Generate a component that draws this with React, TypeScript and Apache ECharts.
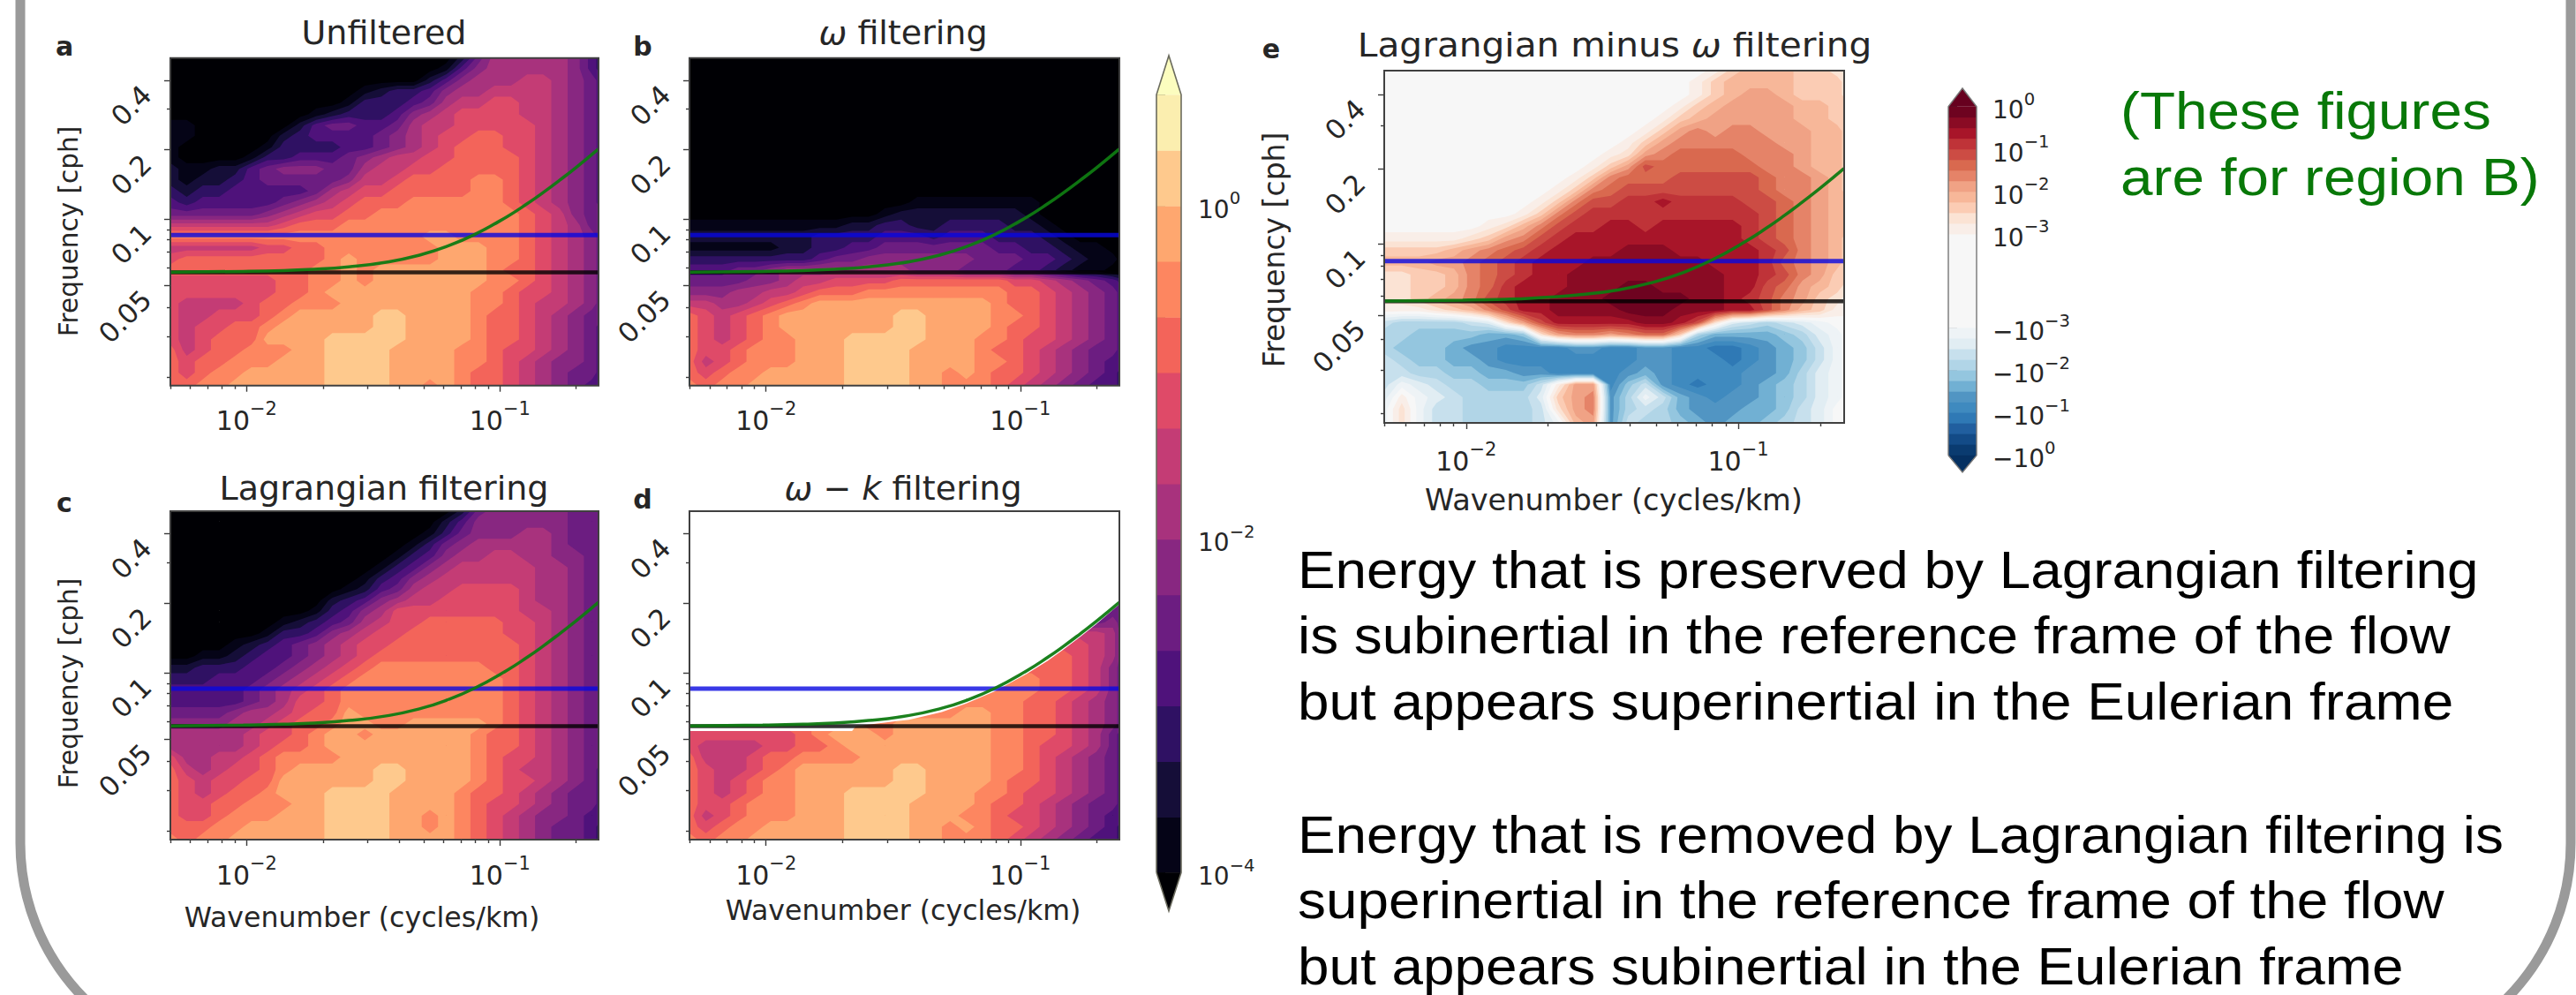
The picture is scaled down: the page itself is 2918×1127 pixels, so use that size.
import React, { useEffect, useRef } from "react";
import * as echarts from "echarts";

// Wavenumber (cycles/km) and frequency (cph) of the sampled contour grid
const wavenumbers = [0.005, 0.0058, 0.00672, 0.00778, 0.00902, 0.01045, 0.0121, 0.014, 0.01625, 0.01884, 0.0218, 0.0253, 0.0293, 0.034, 0.0394, 0.0456, 0.0529, 0.0613, 0.071, 0.0823, 0.0953, 0.1105, 0.128, 0.148, 0.172, 0.199, 0.231, 0.25];
const frequencies = [0.5, 0.45, 0.4, 0.36, 0.32, 0.285, 0.255, 0.23, 0.205, 0.185, 0.165, 0.148, 0.132, 0.118, 0.105, 0.094, 0.084, 0.075, 0.067, 0.06, 0.054, 0.048, 0.043, 0.038, 0.034, 0.03, 0.027, 0.024, 0.0215, 0.0189];

// Colour-band number (hex digit) read at each grid node: one string per frequency, one character per wavenumber
const unfiltered = [
"0000000000000000002577777643","0000000000000000014677777643","0000000000000000246777887654","0000000000001233467788887654","0000000000013334578899887654","0000000001233346789999887654",
"1100000024554457889999987654","1100000234444567899aa9987654","100000133334456789aaa9987654","100001334445678899aaaa987654","21122456665578899aaaaa987654","212234555556889aaaabba987654",
"32334444457899aaaaabba987654","434444456789aaabbbbbba987654","55555567899aabbbbbbbbba98655","88888889aaabbbbbbbbbbba98755","bbbbbbbbbbbbbbbbccbbbba98765","88888899aabbbbbbbcccbba98765",
"9aaaaaaaaabcbbbbbcccbba98765","aaaaaaaaabbcbcccccccbaa98765","9999999aabbcbcccccccbba98765","9999999aabcccccccccbba998765","988889aabbbccccccccbba988765","988999abcccccddccccbaa987655",
"9899aabccccccddccccbaa987654","989aaaccccdddddccccbaa987654","a89aabbbccddddccccbba9987654","a9aabbbcccddddccccbba9876654","a9abbcccccddddccccbaa9876554","aabbccccccddddccbcbaa9876544"];
const omegaFiltered = [
"0000000000000000000000000000","0000000000000000000000000000","0000000000000000000000000000","0000000000000000000000000000","0000000000000000000000000000","0000000000000000000000000000",
"0000000000000000000000000000","0000000000000000000000000000","0000000000000000000000000000","0000000000000000000000000000","0000000000000000000000000000","0000000000000000000000000000",
"0000000000000000000000000000","0000000000000011111111000000","0000000000001222222221000000","1111111111223322333322100000","2222222233334443444333210000","1111112233445555555443321100",
"3333333345566666665554432110","4445567777777766655544321100","5555667889999aaaaaaa99876543","66677889aaabbbbbbbbbaa987654","887789abcccccccccccbaa987654","a989abcccccccddccccbba987654",
"a989abcccccccddccccbaa987654","a989abbcccdddddcccbba9987654","a99abbbcccddddccccbaa9876554","a89abbbcccddddccccbba9876544","a9abbcccccddddccbcbaa9876543","babbccccccddddccbbba98765443"];
const lagrangian = [
"0000000000000000002566666555","0000000000000000024666666555","0000000000000000135666776555","0000000000000001356777776555","0000000000000013467788776655","0000000000000134678888877655",
"0000000000001346788888877655","0000000000012457889999877655","0000000000234678899999877655","0000000001346799999999887655","0000000123457899aaaaa9987655","000000133467899aaaaaa9987655",
"00001234567899aaaaaaaa987655","0011234456789aaaaaaaaa987655","223334456789abbbbbbbaa987655","33344456789abbbbbbbbba987655","4444456789abbbbbbbbbba987655","4444456799abbbbbbbbbba987655",
"555567789aacbbbbbbbbba987655","66667789aabccbbcccccba987655","77777899abccbccccccbaa987655","7777789aabcccccccccbaa987655","977889abbbbccccccccba9987655","a87899abcccccddccccba9887654",
"a9899aaccccccddccccba9987654","a989aabcccddddccccbaa9876554","a99aabbbccddddccccba99876554","a99abbbcccddddccbcba98766544","aaabbcccccddddccbcba98765543","babbccccccddddccccba98765543"];
const omegaKFiltered = [
"5555555555555555555555555555","5555555555555555555555555555","5555555555555555555555555555","5555555555555555555555555555","5555555555555555555555555555","5555555555555555555555555555",
"5555555555555555555555555555","5555555555555555555555555555","5555555555555555555555555555","5555555555555555555555555555","5555555555555555555555555565","8888888888888888888888888875",
"9999999999999999999999999875","aaaaaaaaaaaaaaaaaaaaaaaa9875","aaaaaaaaaaaaaaaaaaaaaaaa9865","bbbbbbbbbbbbbbbbbbbbbbaa9865","bbbbbbbbbbbbbbbbbbbbbbaa9865","bbbbbbbbbbbbbbbbbbbbbaa98765",
"bbbbbbbbbbbbbbbbbccbbaa98765","999999aabbcbbccccccbbaa98765","9999999abcccbccccccbbaa98754","9888899aabcccccccccbba998754","a8889aabbbbccccccccbba987654","a9889abccccccddccccbba987654",
"a989abbccccccddccccbaa987654","a989abbcccdddddcccbba9987654","a99abbbcccddddccccbaa9876554","a89abbbcccddddcccbba99876544","a9abbcccccddddccbcbaa9876543","babbccccccddddccbbba98765443"];
// Difference panel: '.' centre band, A..M positive bands, a..m negative bands
const difference = [
"...................ACDDDCCBB","..................ACDDDDCCCB","..................ACDEEDCCCB",".................ACDEEEEDDCC","................ACDEEEEEDDCC","...............ACEFEFFEEEDDC",
"..............ACEFFFFFFEEDDC",".............ABEFGGGGFFFEDDC","............ACEHGGGGGGFFEDDC","...........ACFGGGHHHHHGFFEDC","..........ACFGHHHHHHHHGFFEDC",".........ACFHHIIJIIIIHHGFEDD",
"........ACFHIIIIIIIIIIHGFEDD","......ABDFHIIJJIJJJJJIHGFEDD","AAAAABCEFHIJJJJJJJJJJIHGFEDC","CCCCDEFGHIJJJJKKKJJJJJIHFEDC","DDDEEFGHIJJJKKKKKKKJJJIGFEDC","BBCCDFGHIJJKKKKKKKKKJJIHFECC",
"BBCCDFGIJJJKKKLLKKKKJJHGEDCB","BBCDEFHIJJKKKLLLLLKKJIHFECBA","AAABCDFHJJKKKKLLLKKKJJHFDCAA","cddddcbBEHJJJJJKKJHBbcdcba..","ddeeeeffeBEFFEFGGCdffffedba.","deeefgghhhhgghhgghhiihgfeca.",
"cdeeffghhhhhhhhgghhhihgfeca.","ccddeeffgghhhhgfghhhhggfdba.","cabcddeeecAEEhecghihhgfedba.","bAabcddddbCEFgdacfghggfedba.","aBaccddddcBEFgdcdfgggffecb..","aBaccddddcaDEgcddefgffedcb.."];

// Reference lines and the dispersion curve
const inertialFrequency = 0.0586;
const tidalFrequency = 0.0851;
const curveK = [0.005, 0.0097, 0.014, 0.0175, 0.0253, 0.0365, 0.0491, 0.0613, 0.0794, 0.1063, 0.128, 0.148, 0.172, 0.2, 0.2445];
const curveF = [0.0587, 0.0592, 0.0597, 0.0603, 0.062, 0.0652, 0.0701, 0.0758, 0.0856, 0.1021, 0.1164, 0.1302, 0.1473, 0.1675, 0.2011];
// Upper edge of the data kept by the omega-k filter
const keptEdgeK = [0.005, 0.0218, 0.0225, 0.0253, 0.0365, 0.0491, 0.0613, 0.0794, 0.1063, 0.128, 0.148, 0.172, 0.2, 0.2445];
const keptEdgeF = [0.0558, 0.0558, 0.0585, 0.0595, 0.0625, 0.0675, 0.0735, 0.083, 0.099, 0.1125, 0.126, 0.143, 0.163, 0.197];

// Axis ticks
const xMajor = [0.01, 0.1];
const xMinor = [0.005, 0.006, 0.007, 0.008, 0.009, 0.02, 0.03, 0.04, 0.05, 0.06, 0.07, 0.08, 0.09, 0.2];
const yMajor = [0.4, 0.2, 0.1, 0.0515];
const yMinor = [0.3, 0.09, 0.0815, 0.0721, 0.0616, 0.0412, 0.0309, 0.0206];

// Colour bars
const energyLevels = [1e-4, 2.15e-4, 4.64e-4, 1e-3, 2.15e-3, 4.64e-3, 1e-2, 2.15e-2, 4.64e-2, 0.1, 0.215, 0.464, 1, 2.15, 4.64];
const magmaBands = ["#000004", "#050417", "#150e38", "#2f1163", "#4f127b", "#6c1d81", "#882781", "#a8327d", "#c43c75", "#df4a68", "#f3645a", "#fd8660", "#fea76f", "#fec98d", "#fbeeaf", "#fcfdbf"];
const energyMajor = [4.64, 1, 0.215, 0.0464, 0.01, 0.00215, 0.000464, 0.0001];
const energyMinor = [4, 3, 2, 0.9, 0.8, 0.7, 0.6, 0.5, 0.4, 0.3, 0.2, 0.09, 0.08, 0.07, 0.06, 0.05, 0.04, 0.03, 0.02, 0.009, 0.008, 0.007, 0.006, 0.005, 0.004, 0.003, 0.002, 0.0009, 0.0008, 0.0007, 0.0006, 0.0005, 0.0004, 0.0003, 0.0002];
const energyLabelled = [1, 0.01, 0.0001];
const diffLevels = [1e-3, 1.78e-3, 3.16e-3, 5.62e-3, 1e-2, 1.78e-2, 3.16e-2, 5.62e-2, 0.1, 0.178, 0.316, 0.562, 1];
const redBands = ["#f9eee8", "#fbe3d4", "#fbccb4", "#f7b799", "#f0a285", "#e58368", "#d9694f", "#cc4c44", "#bf3338", "#a81529", "#8a0b24", "#6e0320", "#67001f"];
const blueBands = ["#eef3f6", "#e1edf3", "#c7e0ed", "#b1d5e7", "#94c6df", "#71b0d3", "#5195c3", "#3f8abf", "#2f79b5", "#215f9f", "#134b87", "#0a3b70", "#053061"];
const centreBand = "#f7f7f7";
const diffTicks = [1, 0.1, 0.01, 0.001, -0.001, -0.01, -0.1, -1];
const diffTickLabels = ["{b|10}{s|0}", "{b|10}{s|−1}", "{b|10}{s|−2}", "{b|10}{s|−3}", "{b|−10}{s|−3}", "{b|−10}{s|−2}", "{b|−10}{s|−1}", "{b|−10}{s|0}"];

// Text
const sentenceA = ["Energy that is preserved by Lagrangian filtering", "is subinertial in the reference frame of the flow", "but appears superinertial in the Eulerian frame"];
const sentenceB = ["Energy that is removed by Lagrangian filtering is", "superinertial in the reference frame of the flow", "but appears subinertial in the Eulerian frame"];
const regionNote = ["(These figures", "are for region B)"];
const xName = "Wavenumber (cycles/km)";
const yName = "Frequency [cph]";

const KMIN = 0.005, KMAX = 0.245, FMIN = 0.0189, FMAX = 0.5;
const MPL = "DejaVu Sans";
const INK = "#262626";

const parseHex = (rows: string[]) => rows.map((r) => Array.from(r.padEnd(28, r[r.length - 1])).map((c) => parseInt(c, 16)));
const parseSigned = (rows: string[]) =>
  rows.map((r) =>
    Array.from(r.padEnd(28, r[r.length - 1])).map((c) => {
      if (c === ".") return 0;
      if (c >= "A" && c <= "M") return c.charCodeAt(0) - 64;
      return -(c.charCodeAt(0) - 96);
    })
  );

// Part of one grid cell that lies at or above threshold t, as path commands
function cellPiece(p: number[][], v: number[], t: number): string {
  let out = "";
  const push = (x: number, y: number) => {
    out += (out ? "L" : "M") + x.toFixed(1) + " " + y.toFixed(1);
  };
  for (let i = 0; i < 4; i++) {
    const j = (i + 1) % 4;
    const ia = v[i] >= t, ib = v[j] >= t;
    if (ia) push(p[i][0], p[i][1]);
    if (ia !== ib) {
      const s = (t - v[i]) / (v[j] - v[i]);
      push(p[i][0] + (p[j][0] - p[i][0]) * s, p[i][1] + (p[j][1] - p[i][1]) * s);
    }
  }
  return out ? out + "Z" : "";
}

function contourSeries(grid: number[][], lowest: number, colors: string[], axisIndex: number) {
  const data = colors.map((_, i) => [0.01, 0.1, i]);
  return {
    type: "custom",
    coordinateSystem: "cartesian2d",
    xAxisIndex: axisIndex,
    yAxisIndex: axisIndex,
    clip: true,
    silent: true,
    z: 2,
    data,
    renderItem: (_: any, api: any) => {
      const i = api.value(2);
      const t = i === 0 ? -Infinity : lowest + i - 0.5;
      const pts = frequencies.map((f) => wavenumbers.map((k) => api.coord([k, f])));
      let d = "";
      for (let r = 0; r < frequencies.length - 1; r++) {
        for (let c = 0; c < wavenumbers.length - 1; c++) {
          const v = [grid[r][c], grid[r][c + 1], grid[r + 1][c + 1], grid[r + 1][c]];
          if (Math.max(v[0], v[1], v[2], v[3]) < t) continue;
          d += cellPiece([pts[r][c], pts[r][c + 1], pts[r + 1][c + 1], pts[r + 1][c]], v, t);
        }
      }
      if (!d) return null;
      return { type: "path", shape: { pathData: d }, style: { fill: colors[i], stroke: null } };
    },
  };
}

function hLine(f: number, color: string, width: number, axisIndex: number) {
  return {
    type: "line", xAxisIndex: axisIndex, yAxisIndex: axisIndex, showSymbol: false, silent: true, z: 4,
    data: [[KMIN, f], [KMAX, f]],
    lineStyle: { color, width, opacity: 0.8 },
  };
}
function curve(axisIndex: number) {
  return {
    type: "line", xAxisIndex: axisIndex, yAxisIndex: axisIndex, showSymbol: false, silent: true, z: 5, smooth: 0.5,
    data: curveK.map((k, i) => [k, curveF[i]]),
    lineStyle: { color: "#0f7a12", width: 3.5, opacity: 0.95 },
  };
}
function mask(axisIndex: number) {
  return {
    type: "custom", coordinateSystem: "cartesian2d", xAxisIndex: axisIndex, yAxisIndex: axisIndex, clip: true, silent: true, z: 3,
    data: [[0.01, 0.1]],
    renderItem: (_: any, api: any) => {
      const pts = keptEdgeK.map((k, i) => api.coord([k, keptEdgeF[i]]));
      pts.push(api.coord([KMAX, FMAX]), api.coord([KMIN, FMAX]));
      return { type: "polygon", shape: { points: pts }, style: { fill: "#ffffff" } };
    },
  };
}

const logLabel = (v: number) => {
  const e = Math.round(Math.log10(v));
  return "{b|10}{s|" + (e < 0 ? "−" : "") + Math.abs(e) + "}";
};
const expRich = (size: number) => ({
  b: { fontFamily: MPL, fontSize: size, color: INK, lineHeight: size * 1.3, verticalAlign: "bottom" },
  s: { fontFamily: MPL, fontSize: size * 0.7, color: INK, lineHeight: size * 0.8, verticalAlign: "top" },
});
const tickStyle = (len: number, values: number[]) => ({ show: true, length: len, customValues: values, lineStyle: { color: "#3a3a3a", width: 1.4 } });

function panelAxes(g: number, fontSize: number, xMargin: number) {
  const xBase = { type: "log", logBase: 10, gridIndex: g, min: KMIN, max: KMAX, position: "bottom", axisLine: { show: false }, splitLine: { show: false }, minorTick: { show: false } };
  const yBase = { type: "log", logBase: 10, gridIndex: g, min: FMIN, max: FMAX, position: "left", axisLine: { show: false }, splitLine: { show: false }, minorTick: { show: false } };
  return {
    x: [
      { ...xBase, axisTick: tickStyle(7, xMajor), axisLabel: { show: true, customValues: xMajor, margin: xMargin, fontFamily: MPL, fontSize, color: INK, rich: expRich(fontSize), formatter: (v: any) => logLabel(+v), hideOverlap: false, showMinLabel: true, showMaxLabel: true } },
      { ...xBase, axisTick: tickStyle(4, xMinor), axisLabel: { show: false } },
    ],
    y: [
      { ...yBase, axisTick: tickStyle(7, yMajor), axisLabel: { show: true, customValues: yMajor, margin: 38, rotate: 45, verticalAlign: "top", fontFamily: MPL, fontSize: 31, color: INK, formatter: (v: any) => (+v < 0.06 ? "0.05" : String(+v)), hideOverlap: false } },
      { ...yBase, axisTick: tickStyle(4, yMinor), axisLabel: { show: false } },
    ],
  };
}

const text = (x: number, y: number, t: string, size: number, opt: any = {}) => ({
  type: "text", x, y, z: 60, rotation: opt.rotation || 0, scaleX: opt.scaleX || 1, silent: true,
  style: {
    text: t, fontFamily: opt.family || MPL, fontSize: size, fontWeight: opt.weight || "normal", fill: opt.fill || INK,
    textAlign: opt.align || "center", align: opt.align || "center", textVerticalAlign: "middle", verticalAlign: "middle", rich: opt.rich,
  },
});

// panel boxes: [left, top, width, height]
const boxes = [[193, 65.7, 485, 371], [781, 65.7, 487, 371], [193, 579, 485, 372], [781, 579, 487, 372], [1568, 80, 521, 399]];

function buildOption() {
  const magmaGrids = [parseHex(unfiltered), parseHex(omegaFiltered), parseHex(lagrangian), parseHex(omegaKFiltered)];
  const divColors = [...blueBands.slice().reverse(), centreBand, ...redBands];
  const diffGrid = parseSigned(difference);

  const grid: any[] = boxes.map((b) => ({ left: b[0], top: b[1], width: b[2], height: b[3], show: false }));
  grid.push({ left: 1310, top: 107.3, width: 28, height: 881, show: false });
  grid.push({ left: 2207, top: 120.7, width: 32, height: 395, show: false });

  const xAxis: any[] = [], yAxis: any[] = [], series: any[] = [];
  boxes.forEach((_, i) => {
    const a = panelAxes(i, 30, i === 4 ? 19 : 16);
    xAxis.push(...a.x);
    yAxis.push(...a.y);
    const ax = i * 2;
    if (i < 4) series.push(contourSeries(magmaGrids[i], 0, magmaBands.slice(0, 15), ax));
    else series.push(contourSeries(diffGrid, -13, divColors, ax));
    if (i === 3) series.push(mask(ax));
    series.push(hLine(inertialFrequency, "#000000", 4.5, ax), hLine(tidalFrequency, "#0808e0", 5, ax), curve(ax));
  });

  // energy colour bar
  const cbA = boxes.length * 2;
  xAxis.push({ type: "value", gridIndex: 5, min: 0, max: 1, show: false }, { type: "value", gridIndex: 5, min: 0, max: 1, show: false });
  yAxis.push(
    { type: "log", logBase: 10, gridIndex: 5, min: 1e-4, max: 4.64, position: "right", axisLine: { show: false }, splitLine: { show: false }, axisTick: tickStyle(10, energyMajor), axisLabel: { show: true, customValues: energyLabelled, margin: 19, fontFamily: MPL, fontSize: 28, color: INK, rich: expRich(28), formatter: (v: any) => logLabel(+v), hideOverlap: false } },
    { type: "log", logBase: 10, gridIndex: 5, min: 1e-4, max: 4.64, position: "right", axisLine: { show: false }, splitLine: { show: false }, axisTick: tickStyle(5, energyMinor), axisLabel: { show: false } }
  );
  series.push({
    type: "custom", coordinateSystem: "cartesian2d", xAxisIndex: cbA, yAxisIndex: cbA, silent: true, z: 2,
    data: energyLevels.slice(0, -1).map((lo, i) => [0, lo, energyLevels[i + 1], i + 1]),
    renderItem: (_: any, api: any) => {
      const a = api.coord([0, api.value(2)]), b = api.coord([1, api.value(1)]);
      return { type: "rect", shape: { x: a[0], y: a[1], width: b[0] - a[0], height: b[1] - a[1] + 0.5 }, style: { fill: magmaBands[api.value(3)] } };
    },
  });

  // difference colour bar: symmetric-log position of a value
  const symU = (x: number) => Math.sign(x) * (4.42 + 4 * (3 + Math.log10(Math.abs(x))));
  const cbB = cbA + 2;
  const diffU = diffTicks.map(symU);
  xAxis.push({ type: "value", gridIndex: 6, min: 0, max: 1, show: false });
  yAxis.push({
    type: "value", gridIndex: 6, min: -16.42, max: 16.42, position: "right", axisLine: { show: false }, splitLine: { show: false },
    axisTick: { show: true, length: 10, customValues: diffU, lineStyle: { color: "#3a3a3a", width: 1.4 } },
    axisLabel: {
      show: true, customValues: diffU, margin: 18, fontFamily: MPL, fontSize: 28, color: INK, hideOverlap: false, rich: expRich(28),
      formatter: (v: any) => {
        let best = 0;
        diffU.forEach((u, i) => { if (Math.abs(u - +v) < Math.abs(diffU[best] - +v)) best = i; });
        return diffTickLabels[best];
      },
    },
  });
  const diffRows: any[] = [[0, symU(-0.001), symU(0.001), centreBand]];
  diffLevels.slice(0, -1).forEach((lo, i) => {
    diffRows.push([0, symU(lo), symU(diffLevels[i + 1]), redBands[i]]);
    diffRows.push([0, symU(-diffLevels[i + 1]), symU(-lo), blueBands[i]]);
  });
  series.push({
    type: "custom", coordinateSystem: "cartesian2d", xAxisIndex: cbB, yAxisIndex: cbB, silent: true, z: 2,
    dimensions: ["x", "lo", "hi", { name: "c", type: "ordinal" }],
    data: diffRows,
    renderItem: (params: any, api: any) => {
      const row = diffRows[params.dataIndex];
      const a = api.coord([0, row[2]]), b = api.coord([1, row[1]]);
      return { type: "rect", shape: { x: a[0], y: a[1], width: b[0] - a[0], height: b[1] - a[1] + 0.4 }, style: { fill: row[3] } };
    },
  });

  const italic = { i: { fontStyle: "italic", fontFamily: MPL, fontSize: 38, fill: INK } };
  const graphic: any[] = [
    { type: "rect", z: 1, silent: true, shape: { x: 23, y: -400, width: 2889, height: 1605, r: 250 }, style: { fill: "none", stroke: "#9a9a9a", lineWidth: 11 } },
    // panel frames
    ...boxes.map((b) => ({ type: "rect", z: 50, silent: true, shape: { x: b[0], y: b[1], width: b[2], height: b[3] }, style: { fill: "none", stroke: "#404040", lineWidth: 2 } })),
    // colour-bar extensions
    { type: "polygon", z: 40, silent: true, shape: { points: [[1310, 107.3], [1324, 63], [1338, 107.3]] }, style: { fill: magmaBands[15] } },
    { type: "polygon", z: 40, silent: true, shape: { points: [[1310, 988.3], [1324, 1032], [1338, 988.3]] }, style: { fill: magmaBands[0] } },
    { type: "polyline", z: 41, silent: true, shape: { points: [[1310, 988.3], [1310, 107.3], [1324, 63], [1338, 107.3], [1338, 988.3], [1324, 1032], [1310, 988.3]] }, style: { fill: "none", stroke: "#6b6b5e", lineWidth: 1.6 } },
    { type: "polygon", z: 40, silent: true, shape: { points: [[2207, 120.7], [2223, 100], [2239, 120.7]] }, style: { fill: redBands[12] } },
    { type: "polygon", z: 40, silent: true, shape: { points: [[2207, 515.7], [2223, 535], [2239, 515.7]] }, style: { fill: blueBands[12] } },
    { type: "polyline", z: 41, silent: true, shape: { points: [[2207, 515.7], [2207, 120.7], [2223, 100], [2239, 120.7], [2239, 515.7], [2223, 535], [2207, 515.7]] }, style: { fill: "none", stroke: "#777777", lineWidth: 1.4 } },
    // titles
    text(435, 37, "Unfiltered", 38),
    text(1023, 37, "{i|ω} filtering", 38, { rich: italic }),
    text(435, 553, "Lagrangian filtering", 38),
    text(1023, 553, "{i|ω} − {i|k} filtering", 38, { rich: italic }),
    text(1829, 50, "Lagrangian minus {i|ω} filtering", 38, { rich: italic, scaleX: 1.07 }),
    // panel letters
    text(73, 52, "a", 30, { weight: "bold", family: "DejaVu Sans" }),
    text(728, 52, "b", 30, { weight: "bold" }),
    text(73, 569, "c", 30, { weight: "bold" }),
    text(728, 565, "d", 30, { weight: "bold" }),
    text(1440, 55, "e", 30, { weight: "bold" }),
    // axis names
    text(78, 262, yName, 29.5, { rotation: Math.PI / 2 }),
    text(78, 774, yName, 29.5, { rotation: Math.PI / 2 }),
    text(1443, 283, yName, 33, { rotation: Math.PI / 2 }),
    text(410, 1039, xName, 31.6),
    text(1023, 1031, xName, 31.6),
    text(1828, 566, xName, 33.6),
    // notes
    ...regionNote.map((t, i) => text(2402, 125 + i * 75, t, 60, { family: "Liberation Sans", fill: "#087808", align: "left", scaleX: 1.095 })),
    ...sentenceA.map((t, i) => text(1470, 645 + i * 74.5, t, 60, { family: "Liberation Sans", fill: "#000000", align: "left", scaleX: 1.064 })),
    ...sentenceB.map((t, i) => text(1470, 945 + i * 74.5, t, 60, { family: "Liberation Sans", fill: "#000000", align: "left", scaleX: 1.064 })),
  ];

  return { animation: false, backgroundColor: "#ffffff", grid, xAxis, yAxis, series, graphic, tooltip: { show: false } };
}

export default function App() {
  const ref = useRef<HTMLDivElement>(null);
  useEffect(() => {
    document.body.style.margin = "0";
    const chart = echarts.init(ref.current as HTMLDivElement, undefined, { renderer: "svg" });
    chart.setOption(buildOption() as any);
    return () => chart.dispose();
  }, []);
  return <div ref={ref} style={{ position: "absolute", left: 0, top: 0, width: 2918, height: 1127, overflow: "hidden" }} />;
}
